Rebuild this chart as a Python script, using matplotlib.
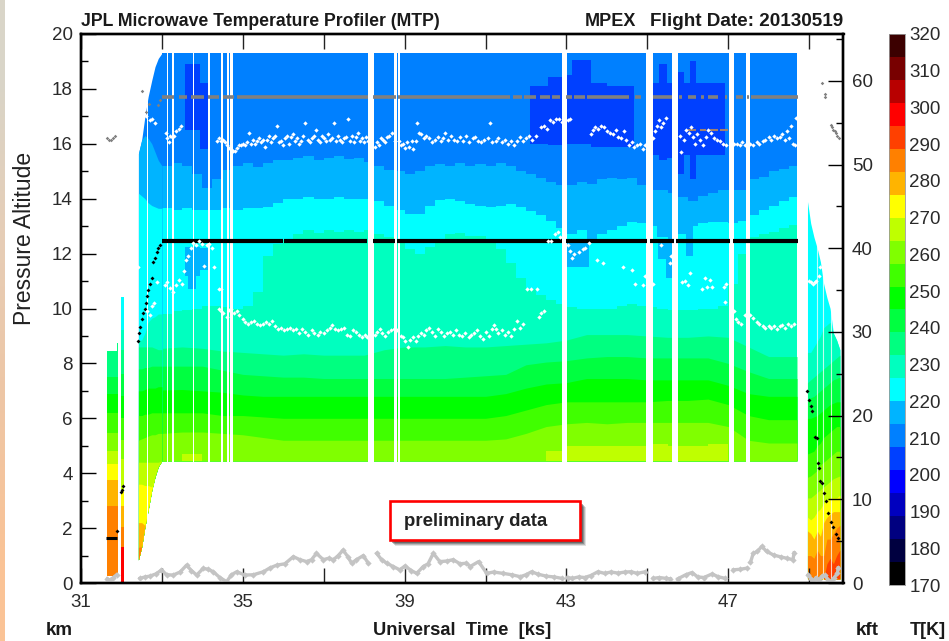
import numpy as np
import matplotlib
matplotlib.use("Agg")
import matplotlib.pyplot as plt
from matplotlib.patches import Rectangle

plt.rcParams['font.family'] = ['Liberation Sans', 'DejaVu Sans']

# colour bands of the temperature scale, bottom to top (170-320 K)
band_colors = ['#000000', '#000040', '#000080', '#0000bf', '#0000ff', '#0040ff', '#0080ff', '#00b4ff',
               '#00ffff', '#00ffbf', '#00ff80', '#00ff40', '#00ff00', '#40ff00', '#80ff00', '#bfff00',
               '#ffff00', '#ffb400', '#ff8000', '#ff4000', '#ff0000', '#b80000', '#780000', '#3c0000']
T_ticks = [170, 180, 190, 200, 210, 220, 230, 240, 250, 260, 270, 280, 290, 300, 310, 320]
BLUE, SKY, CYAN, TEAL, SEA, MINT, GREEN, LIME, GRASS, YGREEN, YELLOW, AMBER, ORANGE, RED, PURE = (
    '#0080ff', '#00b4ff', '#00ffff', '#00ffbf', '#00ff80', '#00ff40', '#00ff00', '#40ff00', '#80ff00',
    '#bfff00', '#ffff00', '#ffb400', '#ff8000', '#ff4000', '#ff0000')
DEEP = '#0040ff'

# main curtain, upper isotherms, one value per 0.25 ks
t_upper = list(np.arange(33.0, 48.6, 0.25)) + [48.7]
iso_blue = [15.2, 15.3, 15.2, 14.9, 14.4, 14.7, 15.05, 15.2, 15.3, 15.15, 15.3, 15.4, 15.4, 15.5, 15.55, 15.4,
            15.5, 15.55, 15.45, 15.5, 15.35, 15.2, 15.05, 15.0, 14.9, 15.0, 15.2, 15.25, 15.2, 15.3, 15.2, 15.25,
            15.2, 15.3, 15.2, 15.0, 14.9, 14.75, 14.6, 14.5, 14.5, 14.6, 14.55, 14.7, 14.75, 14.7, 14.75, 14.5,
            14.3, 14.3, 14.2, 14.05, 13.9, 14.1, 14.2, 14.3, 14.3, 14.3, 14.7, 14.8, 15.0, 15.1, 15.2, 15.3]
iso_sky = [13.65, 13.6, 13.65, 13.6, 13.6, 13.6, 13.65, 13.6, 13.65, 13.65, 13.7, 13.85, 14.0, 14.0, 14.05, 14.0,
           14.0, 14.05, 14.0, 14.0, 14.0, 13.9, 13.75, 13.6, 13.45, 13.45, 13.75, 13.95, 14.0, 13.9, 13.8, 13.75,
           13.7, 13.75, 13.8, 13.7, 13.55, 13.4, 13.2, 12.95, 12.7, 12.85, 12.5, 12.7, 12.85, 13.0, 13.15, 13.1,
           13.0, 12.6, 12.5, 12.7, 13.0, 13.1, 13.15, 13.15, 13.1, 13.2, 13.4, 13.6, 13.75, 13.9, 14.05, 14.1]
iso_cyan = [9.8, 9.9, 9.95, 10.0, 10.1, 10.1, 10.05, 10.0, 10.1, 10.6, 11.9, 12.35, 12.5, 12.7, 12.85, 12.75,
            12.85, 12.8, 12.85, 12.8, 12.85, 12.7, 12.6, 12.4, 12.15, 12.0, 12.25, 12.5, 12.7, 12.75, 12.65, 12.65,
            12.55, 12.15, 11.65, 11.1, 10.7, 10.5, 10.3, 10.15, 10.05, 10.0, 10.0, 10.0, 10.0, 10.1, 10.15, 10.1,
            10.05, 10.0, 9.95, 9.95, 9.95, 10.0, 10.0, 10.1, 10.9, 12.0, 12.6, 12.7, 12.8, 12.95, 13.05, 13.05]

# main curtain, lower isotherms, one value per 0.5 ks
t_lower = list(np.arange(33.0, 48.6, 0.5)) + [48.7]
iso_teal = [8.55, 8.6, 8.55, 8.45, 8.4, 8.35, 8.3, 8.35, 8.3, 8.3, 8.3, 8.5, 8.6, 8.6, 8.65, 8.6, 8.6,
            8.65, 8.7, 8.75, 8.85, 9.05, 9.05, 9.05, 9.0, 8.95, 8.95, 9.0, 8.95, 8.6, 8.25, 8.25, 8.25]
iso_sea = [7.9, 7.9, 7.9, 7.75, 7.6, 7.55, 7.5, 7.5, 7.45, 7.45, 7.45, 7.45, 7.45, 7.45, 7.45, 7.5, 7.55,
           7.6, 7.95, 8.05, 8.1, 8.2, 8.25, 8.25, 8.2, 8.2, 8.2, 8.2, 8.0, 7.7, 7.45, 7.45, 7.45]
iso_mint = [7.03, 7.05, 7.0, 6.95, 6.85, 6.8, 6.8, 6.8, 6.8, 6.8, 6.8, 6.8, 6.8, 6.8, 6.8, 6.8, 6.8,
            6.9, 7.1, 7.25, 7.3, 7.45, 7.45, 7.45, 7.4, 7.4, 7.4, 7.4, 7.2, 6.9, 6.8, 6.8, 6.8]
iso_green = [6.2, 6.2, 6.2, 6.1, 6.1, 6.05, 6.0, 6.0, 6.0, 6.0, 6.0, 6.0, 6.0, 6.0, 6.0, 6.0, 6.0,
             6.1, 6.3, 6.5, 6.6, 6.6, 6.6, 6.6, 6.6, 6.65, 6.65, 6.7, 6.5, 6.1, 5.95, 5.95, 5.95]
iso_lime = [5.45, 5.5, 5.5, 5.45, 5.4, 5.3, 5.2, 5.2, 5.2, 5.2, 5.2, 5.2, 5.2, 5.2, 5.2, 5.2, 5.2,
            5.25, 5.45, 5.7, 5.8, 5.85, 5.8, 5.85, 5.85, 5.85, 5.85, 5.85, 5.7, 5.2, 5.1, 5.1, 5.1]
iso_grass = [4.4, 4.7, 4.4, 4.4, 4.4, 4.4, 4.4, 4.4, 4.4, 4.4, 4.4, 4.4, 4.4, 4.4, 4.4, 4.4, 4.4,
             4.4, 4.4, 4.8, 5.0, 5.0, 5.0, 5.0, 5.05, 5.0, 5.0, 5.05, 4.4, 4.4, 4.4, 4.4, 4.4]
main_floor = 4.45
main_top = 19.3

# colder pockets inside the curtain: t start, t end, km low, km high, colour
pockets = [(33.57, 33.95, 16.5, 18.9, DEEP), (33.95, 34.15, 15.8, 18.2, DEEP), (42.1, 42.55, 16.0, 18.1, DEEP),
           (42.55, 42.9, 15.95, 18.45, DEEP), (43.0, 43.15, 16.0, 18.5, DEEP), (43.15, 43.6, 16.0, 19.05, DEEP),
           (43.6, 44.0, 15.9, 18.2, DEEP), (44.0, 44.55, 15.9, 18.1, DEEP), (44.55, 44.68, 15.9, 18.1, DEEP),
           (45.14, 45.28, 15.6, 18.2, DEEP), (45.28, 45.48, 15.4, 18.9, DEEP), (45.48, 45.62, 15.5, 18.2, DEEP),
           (45.77, 45.9, 14.9, 18.6, DEEP), (45.9, 46.05, 15.6, 18.2, DEEP), (46.05, 46.2, 14.7, 19.0, DEEP),
           (46.2, 46.93, 15.6, 18.2, DEEP),
           (33.57, 33.95, 11.2, 12.25, SKY), (33.65, 33.85, 10.7, 11.3, SKY), (33.95, 34.15, 11.4, 12.2, SKY),
           (43.0, 43.55, 11.5, 12.5, SKY), (45.27, 45.45, 11.8, 12.45, SKY), (45.45, 45.6, 11.1, 12.45, SKY),
           (45.95, 46.12, 11.9, 13.0, SKY)]

# white strips without data
gaps = [(32.62, 32.65), (33.12, 33.15), (33.25, 33.29), (33.78, 33.8), (33.98, 34.0), (34.14, 34.19),
        (34.45, 34.5), (34.62, 34.66), (34.69, 34.75), (38.1, 38.25), (38.75, 38.81), (38.84, 38.88),
        (42.89, 43.01), (44.97, 45.14), (45.62, 45.76), (47.01, 47.15), (47.45, 47.53)]
thin_gaps = [49.19, 49.35, 49.53]

# climb out of the airport
t_climb = [32.42, 32.5, 32.58, 32.66, 32.75, 32.83, 32.91, 33.0]
climb_top = [15.65, 16.14, 17.0, 17.72, 18.32, 18.81, 19.11, 19.3]
climb_floor = [0.84, 1.32, 2.05, 2.66, 3.39, 3.87, 4.24, 4.45]
climb_bands = [(BLUE, [19.3] * 8),
               (SKY, [15.65, 16.14, 16.3, 16.2, 16.0, 15.7, 15.4, 15.2]),
               (CYAN, [14.2, 14.1, 14.0, 13.85, 13.75, 13.7, 13.65, 13.65]),
               (TEAL, [8.85, 8.85, 9.1, 9.5, 9.65, 9.7, 9.8, 9.8]),
               (SEA, [8.6, 8.6, 8.6, 8.6, 8.6, 8.55, 8.5, 8.5]),
               (MINT, [7.8, 7.8, 7.85, 7.85, 7.9, 7.9, 7.9, 7.9]),
               (GREEN, [7.0, 7.0, 7.05, 7.1, 7.1, 7.1, 7.15, 7.15]),
               (LIME, [6.1, 6.1, 6.15, 6.15, 6.2, 6.2, 6.2, 6.2]),
               (GRASS, [5.2, 5.25, 5.3, 5.35, 5.4, 5.4, 5.45, 5.45]),
               (YGREEN, [4.4, 4.4, 4.4, 4.4, 4.4, 4.4, 4.4, 4.4]),
               (YELLOW, [3.6, 3.6, 3.55, 3.55, 3.5, 3.5, 3.4, 3.4]),
               (AMBER, [2.2, 2.2, 2.1, 2.1, 2.0, 2.0, 2.0, 2.0]),
               (ORANGE, [1.3, 1.2, 1.1, 1.1, 1.0, 1.0, 1.0, 1.0])]

# first profile block on the ground
t_block = [31.64, 31.89, 31.92]
block_top = [8.45, 8.75, 8.75]
block_floor = [0.25, 0.25, 0.25]
block_bands = [(SEA, [8.45, 8.75, 8.75]), (MINT, [7.5, 7.5, 7.5]), (GREEN, [6.9, 6.9, 6.9]),
               (LIME, [6.2, 6.2, 6.2]), (GRASS, [5.45, 5.45, 5.45]), (YGREEN, [4.8, 4.8, 4.8]),
               (YELLOW, [4.35, 4.35, 4.35]), (AMBER, [3.75, 3.75, 3.75]), (ORANGE, [2.8, 2.8, 2.8])]
t_sliver = [32.0, 32.06]
sliver_top = [10.43, 10.43]
sliver_floor = [0.05, 0.05]
sliver_bands = [(CYAN, [10.43, 10.43]), (TEAL, [9.2, 9.2]), (SEA, [8.5, 8.5]), (MINT, [7.6, 7.6]),
                (GREEN, [6.8, 6.8]), (LIME, [6.0, 6.0]), (GRASS, [5.2, 5.2]), (YGREEN, [4.5, 4.5]),
                (YELLOW, [3.4, 3.4]), (AMBER, [2.8, 2.8]), (ORANGE, [2.05, 2.05]), (PURE, [1.3, 1.3])]

# descent at the end of the flight
t_desc = [48.96, 49.04, 49.12, 49.2, 49.28, 49.36, 49.44, 49.52, 49.6, 49.68, 49.76]
desc_top = [13.9, 13.1, 12.6, 12.2, 11.7, 10.9, 10.4, 10.0, 9.1, 8.85, 8.5]
desc_floor = [0.15, 0.15, 0.15, 0.2, 0.15, 0.15, 0.15, 0.15, 0.15, 0.15, 0.15]
desc_bands = [(CYAN, desc_top),
              (TEAL, [8.4, 8.4, 8.6, 8.8, 9.0, 9.3, 9.4, 9.5, 9.3, 8.85, 8.5]),
              (SEA, [7.3, 7.4, 7.5, 7.6, 7.7, 7.8, 7.9, 8.0, 8.1, 8.2, 8.3]),
              (MINT, [6.7, 6.75, 6.8, 6.9, 7.0, 7.1, 7.2, 7.3, 7.4, 7.45, 7.5]),
              (GREEN, [6.0, 6.0, 6.05, 6.1, 6.2, 6.3, 6.4, 6.5, 6.55, 6.6, 6.6]),
              (LIME, [4.7, 4.75, 4.8, 5.0, 5.1, 5.3, 5.4, 5.5, 5.6, 5.7, 5.7]),
              (GRASS, [3.85, 3.9, 4.0, 4.1, 4.3, 4.4, 4.5, 4.6, 4.7, 4.8, 4.8]),
              (YGREEN, [3.1, 3.1, 3.2, 3.3, 3.4, 3.5, 3.6, 3.7, 3.8, 3.85, 3.9]),
              (YELLOW, [2.4, 2.3, 2.4, 2.6, 2.7, 2.9, 3.0, 3.1, 3.1, 3.1, 3.2]),
              (AMBER, [1.9, 1.8, 1.6, 1.9, 1.7, 2.2, 2.4, 2.5, 2.6, 2.6, 2.6]),
              (ORANGE, [1.0, 1.0, 0.9, 1.2, 1.0, 1.0, 1.6, 1.6, 1.8, 2.0, 2.1]),
              (RED, [0.0, 0.0, 0.0, 0.0, 0.0, 0.0, 0.7, 0.9, 0.7, 1.0, 1.2])]

# upper tropopause dots (t ks, km)
upper_dots = [(32.55, 17.1), (32.6, 17.0), (32.7, 16.85), (32.76, 16.9), (32.83, 16.75),
              (33.1, 16.4), (33.13, 16.2), (33.18, 16.05), (33.2, 16.3), (33.25, 16.25), (33.3, 16.3), (33.35, 16.45),
              (33.42, 16.55), (33.47, 16.65),
              (34.37, 16.1), (34.42, 16.2), (34.47, 16.1), (34.52, 16.15), (34.57, 16.05), (34.6, 15.95), (34.65, 15.85),
              (34.7, 15.8), (34.75, 15.75), (34.8, 15.75), (34.85, 15.85), (34.9, 15.95), (34.95, 15.95), (35.0, 16.0),
              (35.05, 15.95), (35.1, 16.05), (35.15, 16.4), (35.2, 16.0), (35.25, 16.15), (35.3, 16.0), (35.35, 16.1),
              (35.4, 16.2), (35.45, 16.05), (35.5, 16.15), (35.55, 15.9), (35.6, 16.15), (35.65, 16.3), (35.7, 16.05),
              (35.75, 16.2), (35.8, 16.3), (35.85, 16.65), (35.9, 16.05), (35.95, 16.1), (36.0, 15.95), (36.05, 16.2),
              (36.1, 16.3), (36.15, 16.0), (36.2, 16.25), (36.25, 16.35), (36.3, 16.1), (36.35, 16.2), (36.4, 16.0),
              (36.45, 16.1), (36.5, 16.3), (36.55, 16.75), (36.6, 16.15), (36.65, 16.05), (36.7, 16.2), (36.75, 16.3),
              (36.8, 16.5), (36.85, 16.15), (36.9, 16.05), (36.95, 16.3), (37.0, 16.2), (37.05, 16.1), (37.1, 16.35),
              (37.15, 16.15), (37.2, 16.2), (37.25, 16.75), (37.3, 16.1), (37.35, 16.3), (37.4, 16.15), (37.45, 16.05),
              (37.5, 16.2), (37.55, 16.25), (37.6, 16.9), (37.65, 16.1), (37.7, 16.3), (37.75, 16.05), (37.8, 16.25),
              (37.85, 16.4), (37.9, 16.1), (37.95, 16.2), (38.0, 16.05), (38.05, 16.25), (38.1, 16.1),
              (38.27, 15.9), (38.32, 16.05), (38.37, 15.95), (38.42, 16.2), (38.47, 16.15), (38.52, 16.05), (38.57, 16.25),
              (38.62, 16.3), (38.7, 16.4), (38.77, 16.1), (38.85, 16.1), (38.9, 15.95), (38.95, 16.0), (39.0, 15.85),
              (39.05, 16.05), (39.12, 15.9), (39.18, 16.1), (39.22, 15.8), (39.28, 16.1), (39.3, 16.75), (39.35, 16.4),
              (39.4, 16.35), (39.47, 16.2), (39.52, 16.3), (39.6, 16.2), (39.68, 16.05), (39.75, 16.15), (39.82, 16.25),
              (39.9, 16.1), (39.95, 16.2), (40.0, 16.4), (40.07, 16.15), (40.15, 16.3), (40.22, 16.15), (40.3, 16.1),
              (40.38, 16.25), (40.45, 16.1), (40.52, 16.3), (40.6, 16.05), (40.68, 16.2), (40.75, 16.25), (40.82, 16.1),
              (40.9, 16.05), (40.97, 16.15), (41.05, 16.2), (41.1, 16.75), (41.17, 16.05), (41.25, 16.1), (41.32, 16.2),
              (41.4, 16.05), (41.47, 16.15), (41.55, 16.0), (41.62, 16.1), (41.7, 15.95), (41.77, 16.1), (41.85, 16.25),
              (41.92, 16.1), (42.0, 16.2), (42.07, 16.3), (42.15, 16.15), (42.25, 16.3), (42.38, 16.6), (42.45, 16.65),
              (42.52, 16.55), (42.6, 16.85), (42.67, 16.8), (42.75, 16.9), (42.82, 16.9), (42.88, 16.8),
              (43.03, 16.85), (43.08, 16.9),
              (43.6, 16.35), (43.65, 16.5), (43.7, 16.6), (43.78, 16.55), (43.85, 16.65), (43.92, 16.6), (44.0, 16.45),
              (44.07, 16.4), (44.15, 16.35), (44.22, 16.5), (44.27, 16.25), (44.35, 16.2), (44.42, 16.45), (44.47, 16.15),
              (44.55, 15.95), (44.62, 16.05), (44.68, 15.9), (44.75, 15.95), (44.82, 16.0), (44.9, 15.8), (44.95, 15.95),
              (45.15, 16.2), (45.2, 16.45), (45.25, 16.65), (45.3, 16.85), (45.35, 16.6), (45.4, 16.75), (45.45, 16.95),
              (45.8, 16.3), (45.83, 15.7), (45.9, 16.15), (45.95, 16.5), (46.02, 16.4), (46.07, 16.6), (46.12, 16.25),
              (46.17, 16.0), (46.22, 16.35), (46.3, 16.15), (46.37, 15.95), (46.45, 16.25), (46.5, 16.5), (46.57, 16.4),
              (46.65, 16.2), (46.72, 16.15), (46.8, 16.1), (46.87, 16.0), (46.95, 15.95),
              (47.15, 16.0), (47.22, 16.0), (47.28, 15.95), (47.35, 16.05), (47.42, 15.95),
              (47.55, 16.0), (47.62, 15.95), (47.7, 16.05), (47.77, 16.0), (47.85, 16.1), (47.92, 16.15), (48.0, 16.25),
              (48.07, 16.15), (48.13, 16.3), (48.2, 16.2), (48.27, 16.25), (48.33, 16.35), (48.4, 16.15), (48.45, 16.45),
              (48.5, 16.2), (48.55, 16.65), (48.6, 16.0), (48.65, 15.95), (48.67, 16.95)]

# lower tropopause dots (t ks, km)
lower_dots = [(32.42, 11.5), (32.63, 9.9), (32.7, 9.75), (32.75, 10.1), (32.8, 10.2), (32.88, 10.95),
              (33.07, 10.85), (33.13, 10.95), (33.2, 10.75), (33.27, 10.6), (33.35, 10.85), (33.42, 11.05), (33.5, 10.9),
              (33.55, 11.35), (33.6, 11.75), (33.65, 11.9), (33.72, 12.2), (33.78, 12.4), (33.85, 12.3), (33.92, 12.45),
              (34.0, 12.35), (34.05, 11.55), (34.12, 12.3), (34.17, 12.35), (34.25, 12.2), (34.3, 11.5),
              (34.4, 10.7), (34.47, 10.7), (34.4, 9.98), (34.45, 9.9), (34.52, 9.85), (34.6, 9.7), (34.65, 9.95),
              (34.72, 10.0), (34.78, 9.85), (34.85, 9.9), (34.9, 9.75), (35.0, 9.6), (35.05, 9.5), (35.12, 9.45),
              (35.2, 9.5), (35.28, 9.55), (35.35, 9.45), (35.42, 9.4), (35.5, 9.45), (35.57, 9.5), (35.65, 9.45),
              (35.72, 9.55), (35.8, 9.35), (35.87, 9.25), (35.95, 9.3), (36.02, 9.2), (36.1, 9.25), (36.17, 9.3),
              (36.25, 9.2), (36.32, 9.25), (36.4, 9.1), (36.47, 9.25), (36.55, 9.15), (36.62, 9.05), (36.7, 9.2),
              (36.77, 9.1), (36.85, 9.05), (36.92, 9.15), (37.0, 9.1), (37.07, 9.2), (37.15, 9.3), (37.2, 9.4),
              (37.28, 9.25), (37.35, 9.2), (37.42, 9.25), (37.5, 9.3), (37.57, 9.05), (37.65, 9.0), (37.72, 9.2),
              (37.8, 9.15), (37.87, 9.05), (37.95, 8.95), (38.02, 9.05), (38.08, 8.95),
              (38.27, 9.05), (38.33, 9.15), (38.4, 9.25), (38.45, 9.1), (38.52, 9.0), (38.6, 9.15), (38.67, 9.2),
              (38.73, 9.25), (38.82, 9.2), (38.9, 9.0), (38.97, 8.95), (39.02, 8.8), (39.08, 8.6), (39.13, 8.85),
              (39.2, 8.95), (39.27, 8.8), (39.33, 9.0), (39.4, 9.1), (39.47, 9.05), (39.53, 9.2), (39.6, 9.3),
              (39.67, 9.15), (39.75, 9.0), (39.82, 9.25), (39.9, 9.15), (39.97, 9.0), (40.05, 9.1), (40.12, 9.15),
              (40.2, 9.05), (40.28, 9.2), (40.35, 9.05), (40.42, 9.0), (40.5, 9.1), (40.58, 8.95), (40.65, 9.05),
              (40.72, 9.1), (40.8, 9.2), (40.87, 9.0), (40.95, 8.9), (41.02, 9.15), (41.08, 9.0), (41.15, 9.25),
              (41.2, 9.4), (41.27, 9.25), (41.32, 9.1), (41.4, 9.2), (41.47, 9.05), (41.55, 9.15), (41.62, 9.0),
              (41.7, 9.25), (41.77, 9.55), (41.85, 9.3), (41.92, 9.45), (42.03, 10.7), (42.12, 10.7), (42.28, 10.7),
              (42.33, 9.7), (42.38, 9.85), (42.45, 9.9),
              (42.55, 12.45), (42.62, 12.45), (42.72, 12.7), (42.8, 12.8), (42.85, 12.6),
              (43.03, 12.3), (43.1, 12.1), (43.13, 11.85), (43.2, 12.0), (43.3, 12.05), (43.4, 12.15), (43.47, 12.2),
              (43.55, 12.4), (43.75, 11.75), (43.9, 11.65), (44.4, 11.5), (44.7, 10.9), (44.63, 11.4), (44.9, 10.85),
              (44.95, 11.2), (45.15, 10.9), (45.35, 12.3), (45.55, 11.65), (45.58, 11.9),
              (45.85, 10.95), (45.93, 11.0), (46.0, 10.85), (46.05, 11.3), (46.35, 10.7), (46.42, 11.1), (46.47, 10.8),
              (46.55, 11.05), (46.6, 10.8), (46.9, 10.8), (46.95, 10.9), (46.93, 10.25),
              (47.15, 9.9), (47.2, 9.6), (47.25, 9.5), (47.32, 9.45), (47.42, 9.75), (47.55, 9.75), (47.62, 9.65),
              (47.7, 9.5), (47.77, 9.45), (47.85, 9.35), (47.92, 9.3), (48.0, 9.35), (48.07, 9.3), (48.13, 9.35),
              (48.2, 9.25), (48.27, 9.35), (48.33, 9.4), (48.4, 9.3), (48.47, 9.45), (48.55, 9.35), (48.62, 9.45),
              (49.0, 11.0), (49.05, 10.95), (49.1, 10.9), (49.15, 10.95), (49.18, 11.0), (49.24, 11.2), (49.26, 11.5)]

# flight level of the aircraft, segments between dropouts
black_segments = [(33.0, 36.0), (36.03, 38.08), (38.22, 38.77), (38.82, 42.88), (43.0, 45.0), (45.07, 45.65),
                  (45.7, 47.05), (47.13, 47.48), (47.5, 48.72)]
black_level = 12.45
black_dots = [(32.42, 8.8), (32.44, 9.1), (32.46, 9.34), (32.5, 9.6), (32.54, 9.83), (32.57, 10.0), (32.6, 10.2),
              (32.63, 10.45), (32.66, 10.68), (32.7, 10.9), (32.75, 11.1), (32.79, 11.7), (32.82, 11.85), (32.87, 12.07),
              (32.9, 12.2), (32.95, 12.3), (31.89, 1.88), (32.0, 3.33), (32.02, 3.4), (32.04, 3.53),
              (48.96, 7.0), (48.99, 6.67), (49.04, 6.43), (49.08, 6.25), (49.14, 5.33), (49.19, 5.27), (49.21, 4.36),
              (49.24, 4.18), (49.28, 3.7), (49.33, 3.63), (49.37, 3.27), (49.41, 3.0), (49.47, 2.54), (49.53, 2.24),
              (49.6, 2.05), (49.66, 1.8), (49.72, 1.63)]
ground_segment = (31.63, 31.89)
ground_level = 1.65

# top grey line, with dropouts
grey_segments = [(33.0, 33.3), (33.42, 33.62), (33.72, 34.05), (34.15, 34.4), (34.5, 34.78), (34.85, 38.1),
                 (38.22, 38.78), (38.84, 41.6), (41.68, 41.9), (41.95, 42.25), (42.35, 42.6), (42.65, 42.85),
                 (43.0, 43.15), (43.2, 43.45), (43.5, 44.55), (44.7, 44.85), (45.14, 45.6), (45.78, 45.86),
                 (46.0, 46.2), (46.32, 46.4), (46.5, 46.75), (46.92, 46.97), (47.2, 47.36), (47.47, 47.52), (47.57, 48.72)]
grey_level = 17.72
grey_low_segments = [(46.0, 46.2), (46.3, 46.45), (46.55, 46.75), (46.8, 47.0)]
grey_low_level = 16.5
grey_dots = [(31.65, 16.2), (31.7, 16.15), (31.75, 16.15), (31.8, 16.2), (31.85, 16.28), (32.5, 17.92),
             (32.68, 17.45), (32.6, 17.15), (32.91, 17.4), (32.95, 17.6),
             (49.31, 18.2), (49.39, 17.8), (49.39, 17.7), (49.53, 16.7), (49.56, 16.6), (49.59, 16.5),
             (49.63, 16.45), (49.66, 16.38), (49.7, 16.3), (49.73, 16.2)]

# altitude of the ground below the aircraft, runs between dropouts
ground_runs = [
    [(32.46, 0.17), (32.58, 0.22), (32.7, 0.25), (32.85, 0.33), (32.99, 0.47), (33.12, 0.3), (33.28, 0.29),
     (33.45, 0.4), (33.61, 0.65), (33.73, 0.45), (33.86, 0.29), (34.02, 0.53), (34.15, 0.5), (34.27, 0.41),
     (34.43, 0.2), (34.6, 0.05), (34.72, 0.3), (34.85, 0.41), (35.05, 0.29), (35.26, 0.3), (35.51, 0.41),
     (35.67, 0.55), (35.84, 0.65), (36.04, 0.7), (36.25, 0.96), (36.41, 0.85), (36.58, 0.78), (36.7, 0.85),
     (36.82, 1.08), (36.99, 0.85), (37.12, 0.9), (37.24, 0.85), (37.36, 1.0), (37.48, 1.2), (37.6, 0.95),
     (37.69, 0.72), (37.81, 0.85), (37.98, 1.0), (38.1, 0.72)],
    [(38.31, 1.08), (38.43, 0.85), (38.56, 0.72), (38.72, 0.6), (38.88, 0.48), (39.01, 0.62), (39.17, 0.45),
     (39.3, 0.35), (39.46, 0.6), (39.58, 0.7), (39.71, 1.08), (39.87, 0.78), (40.04, 0.8), (40.2, 0.85),
     (40.37, 0.7), (40.53, 0.72), (40.62, 0.6), (40.83, 0.78), (41.03, 0.35), (41.2, 0.4), (41.44, 0.35),
     (41.65, 0.3), (41.86, 0.23), (42.0, 0.3), (42.14, 0.41), (42.3, 0.32), (42.5, 0.25), (42.7, 0.22), (42.88, 0.17)],
    [(43.03, 0.2), (43.15, 0.17), (43.3, 0.22), (43.45, 0.2), (43.6, 0.27), (43.78, 0.41), (43.95, 0.35),
     (44.1, 0.4), (44.28, 0.36), (44.45, 0.4), (44.6, 0.41), (44.75, 0.35), (44.95, 0.41)],
    [(45.15, 0.17), (45.3, 0.2), (45.45, 0.17), (45.57, 0.15)],
    [(45.75, 0.15), (45.95, 0.3), (46.1, 0.38), (46.25, 0.22), (46.4, 0.2), (46.6, 0.33), (46.75, 0.23), (46.92, 0.17)],
    [(47.13, 0.48), (47.3, 0.5), (47.46, 0.54)],
    [(47.55, 0.75), (47.62, 1.08), (47.72, 1.15), (47.83, 1.33), (47.95, 1.15), (48.12, 1.02), (48.3, 0.95), (48.45, 0.9),
     (48.6, 0.85), (48.63, 1.1)],
    [(31.65, 0.15), (31.72, 0.1), (31.8, 0.2), (31.88, 0.3)],
    [(48.98, 0.3), (49.05, 0.15), (49.1, 0.05), (49.17, 0.2), (49.25, 0.12), (49.32, 0.25), (49.4, 0.28), (49.47, 0.1),
     (49.55, 0.05), (49.62, 0.2), (49.7, 0.35), (49.72, 0.55)]]


def draw_piece(ax, t, top, floor, bands, step='post'):
    # each isotherm paints everything below it
    t = np.array(t)
    floor = np.array(floor, dtype=float)
    top = np.array(top, dtype=float)
    for colour, level in bands:
        upper = np.maximum(np.minimum(np.array(level, dtype=float), top), floor)
        ax.fill_between(t, floor, upper, step=step, color=colour, lw=0, zorder=1)


W, H = 949, 641
fig = plt.figure(figsize=(W / 100, H / 100), dpi=100, facecolor='white')
ax = fig.add_axes([81 / W, 1 - 583 / H, (843.5 - 81) / W, (583 - 34) / H])
ax.set_xlim(31, 31 + (843.5 - 81) / 40.45)
ax.set_ylim(0, 20)

# main curtain
n_up = len(t_upper)
n_lo = len(t_lower)
draw_piece(ax, t_upper, [main_top] * n_up, [main_floor] * n_up,
           [(BLUE, [main_top] * n_up), (SKY, iso_blue), (CYAN, iso_sky), (TEAL, iso_cyan)])
draw_piece(ax, t_lower, [main_top] * n_lo, [main_floor] * n_lo,
           [(SEA, iso_teal), (MINT, iso_sea), (GREEN, iso_mint), (LIME, iso_green), (GRASS, iso_lime)], step=None)
draw_piece(ax, t_lower, [main_top] * n_lo, [main_floor] * n_lo, [(YGREEN, iso_grass)])
for t0, t1, lo, hi, colour in pockets:
    ax.fill_between([t0, t1], [lo, lo], [hi, hi], color=colour, lw=0, zorder=1.1)

draw_piece(ax, t_climb, climb_top, climb_floor, climb_bands, step=None)
draw_piece(ax, t_block, block_top, block_floor, block_bands)
draw_piece(ax, t_sliver, sliver_top, sliver_floor, sliver_bands)
draw_piece(ax, t_desc, desc_top, desc_floor, desc_bands, step=None)

for t0, t1 in gaps:
    ax.axvspan(t0, t1, color='white', lw=0, zorder=1.5)
for t0 in thin_gaps:
    ax.axvline(t0, ymax=0.75, color='white', lw=0.8, alpha=0.75, zorder=1.5)

# overlays
for t0, t1 in grey_segments:
    ax.plot([t0, t1], [grey_level, grey_level], color='#808080', lw=2.6, solid_capstyle='butt', zorder=3)
for t0, t1 in grey_low_segments:
    ax.plot([t0, t1], [grey_low_level, grey_low_level], color='#a08070', lw=1.5, solid_capstyle='butt', zorder=3)
ax.plot(*np.array(grey_dots).T, ls='', marker='D', ms=1.8, mew=0, color='#808080', zorder=3)
for run in ground_runs:
    ax.plot(*np.array(run).T, color='#c4c4c4', lw=2.4, marker='D', ms=3.2, mew=0, zorder=3)
for t0, t1 in black_segments:
    ax.plot([t0, t1], [black_level, black_level], color='black', lw=3, solid_capstyle='butt', zorder=4)
ax.plot(ground_segment, [ground_level, ground_level], color='black', lw=2.2, solid_capstyle='butt', zorder=4)
ax.plot(*np.array(black_dots).T, ls='', marker='D', ms=2, mew=0, color='black', zorder=4)
ax.plot(*np.array(upper_dots).T, ls='', marker='D', ms=2.2, mew=0, color='white', zorder=5)
ax.plot(*np.array(lower_dots).T, ls='', marker='D', ms=2.2, mew=0, color='white', zorder=5)

# left and bottom axes
tick_col = '#2a2a2a'
ax.set_xticks(range(31, 50, 2))
ax.set_xticklabels(['31', '', '35', '', '39', '', '43', '', '47', ''])
ax.set_yticks(range(0, 21, 2))
ax.set_yticks(range(1, 20, 2), minor=True)
ax.tick_params(axis='x', which='major', direction='in', length=10.8, width=1, top=True, pad=8,
               labelsize=13.5, labelcolor=tick_col, color='#222222')
ax.tick_params(axis='y', which='major', direction='in', length=10.8, width=1, pad=6,
               labelsize=13.5, labelcolor=tick_col)
ax.tick_params(axis='y', which='minor', direction='in', length=5, width=1)
for s in ax.spines.values():
    s.set_linewidth(1.7)
ax.set_zorder(2)

# kft scale on the right
ax2 = ax.twinx()
ax2.set_ylim(0, 20 * 3.28084)
ax2.set_yticks(range(0, 61, 10))
ax2.set_yticks(range(5, 66, 10), minor=True)
ax2.tick_params(axis='y', which='major', direction='in', length=10.8, width=1, pad=6,
                labelsize=13.5, labelcolor=tick_col)
ax2.tick_params(axis='y', which='minor', direction='in', length=5, width=1)
for s in ax2.spines.values():
    s.set_linewidth(1.7)
ax2.set_zorder(3)

# colour bar
cax = fig.add_axes([889 / W, 1 - 585 / H, 16 / W, (585 - 34) / H])
edges = np.linspace(170, 320, len(band_colors) + 1)
for i, colour in enumerate(band_colors):
    cax.axhspan(edges[i], edges[i + 1], color=colour, lw=0)
cax.set_ylim(170, 320)
cax.set_xticks([])
cax.yaxis.tick_right()
cax.set_yticks(T_ticks)
cax.tick_params(axis='y', length=0, pad=3, labelsize=13.5, labelcolor=tick_col)
for s in cax.spines.values():
    s.set_linewidth(0.6)
    s.set_color('#999999')

# overlay in pixel coordinates for the frame pieces and captions
over = fig.add_axes([0, 0, 1, 1], facecolor='none')
over.axis('off')
over.set_zorder(5)

strip = np.array([[[217, 213, 200]], [[230, 205, 182]], [[238, 198, 165]], [[250, 195, 150]]], dtype=np.uint8)
over.imshow(strip, extent=(0, 5, H, 0), aspect='auto', interpolation='bilinear', zorder=1)
over.set_xlim(0, W)
over.set_ylim(H, 0)

# preliminary data box
for off, alpha in [(6, 0.15), (5, 0.22), (4, 0.3), (3, 0.4)]:
    over.add_patch(Rectangle((389 + off, 501 + off), 191, 39, fc='#303030', ec='none', alpha=alpha, zorder=2))
over.add_patch(Rectangle((390, 501), 190, 39, fc='white', ec='#ff0000', lw=1.9, zorder=3))
over.text(404.5, 521.5, 'preliminary data', fontsize=13.4, fontweight='bold', color='#222222', va='center', zorder=4)

title_kw = dict(fontweight='bold', color='#1a1a1a', va='center')
over.text(81, 21, 'JPL Microwave Temperature Profiler (MTP)', ha='left', fontsize=12.7, **title_kw)
over.text(585, 21, 'MPEX', ha='left', fontsize=13, **title_kw)
over.text(843, 21, 'Flight Date: 20130519', ha='right', fontsize=13.6, **title_kw)
over.text(46, 630.5, 'km', ha='left', fontsize=13.5, **title_kw)
over.text(462.5, 630.5, 'Universal  Time  [ks]', ha='center', fontsize=13.2, **title_kw)
over.text(856, 630.5, 'kft', ha='left', fontsize=13.5, **title_kw)
over.text(910, 630.5, 'T[K]', ha='left', fontsize=13, **title_kw)
over.text(25, 238, 'Pressure Altitude', rotation=90, ha='center', va='center', fontsize=16.5, color='#222222')

fig.savefig('out.png', dpi=100)
